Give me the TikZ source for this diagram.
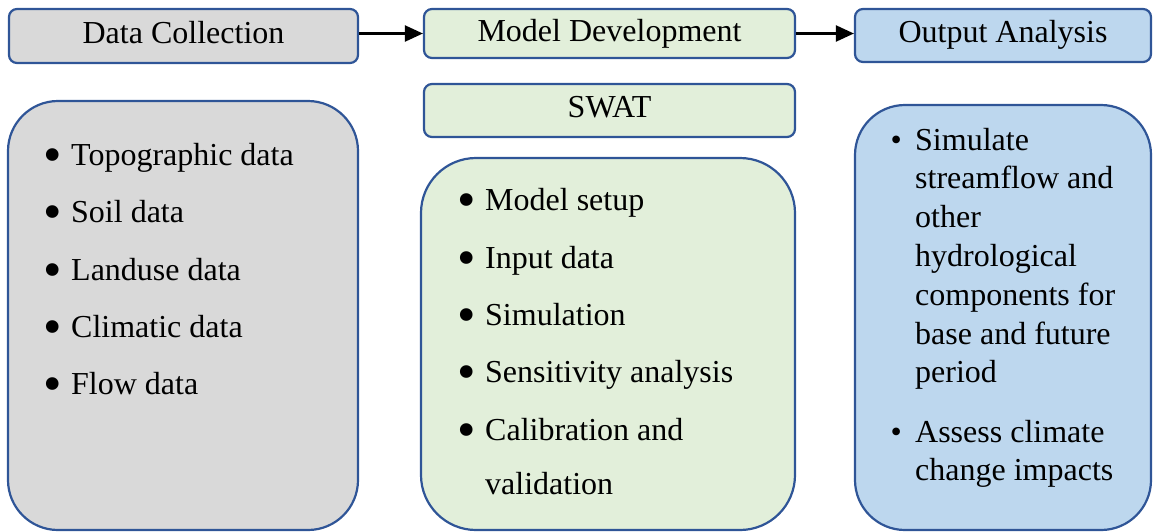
\documentclass[tikz,border=0pt]{standalone}
\usepackage{fontspec}
\setmainfont{Liberation Serif}
\usetikzlibrary{arrows.meta}
\definecolor{edge}{HTML}{2F5597}
\definecolor{grayfill}{HTML}{D9D9D9}
\definecolor{greenfill}{HTML}{E2EFDA}
\definecolor{bluefill}{HTML}{BDD7EE}
\newcommand{\bigbul}{\makebox[27.5pt][l]{\raisebox{-7pt}{\scalebox{1.65}{\textbullet}}}}
\newcommand{\bul}{\makebox[24.6pt][l]{\textbullet}}
\tikzset{
  headbox/.style={draw=edge, line width=2.2pt, rounded corners=8pt, inner sep=0pt,
    text height=22pt, text depth=8pt, font=\fontsize{32}{38.8}\selectfont},
  bigbox/.style={draw=edge, line width=2.2pt, inner sep=0pt},
  item/.style={anchor=base west, inner sep=0pt, font=\fontsize{32}{38.8}\selectfont, align=left},
  arr/.style={line width=2.2pt, -{Triangle[length=18pt,width=16pt]}}
}
\begin{document}
\begin{tikzpicture}[x=1pt,y=-1pt]
\useasboundingbox (0,0) rectangle (1153,531);
% header boxes
\node[headbox, fill=grayfill, minimum width=349pt, minimum height=54pt] (data) at (183.5,36) {Data Collection};
\node[headbox, fill=greenfill, minimum width=371pt, minimum height=49pt, text depth=7pt, text height=23pt] (model) at (609.5,33.5) {Model Development};
\node[headbox, fill=bluefill, minimum width=296pt, minimum height=53pt] (output) at (1003,35.5) {Output Analysis};
\node[headbox, fill=greenfill, minimum width=371pt, minimum height=53pt] (swat) at (609.5,110.5) {SWAT};
\draw[arr] (data.east |- model.west) -- (model.west);
\draw[arr] (model.east) -- (output.west |- model.east);
% big boxes
\node[bigbox, fill=grayfill, rounded corners=50pt, minimum width=350pt, minimum height=429pt] (graybox) at (183,315.5) {};
\node[bigbox, fill=greenfill, rounded corners=55pt, minimum width=374pt, minimum height=372pt] (greenbox) at (608,344) {};
\node[bigbox, fill=bluefill, rounded corners=50pt, minimum width=296pt, minimum height=425pt] (bluebox) at (1003,317.5) {};
% gray list
\node[item] (g1) at (43.5,165) {\bigbul Topographic data};
\node[item] (g2) at (43.5,222) {\bigbul Soil data};
\node[item] (g3) at (43.5,280) {\bigbul Landuse data};
\node[item] (g4) at (43.5,337) {\bigbul Climatic data};
\node[item] (g5) at (43.5,394) {\bigbul Flow data};
% green list
\node[item] (m1) at (457.5,210) {\bigbul Model setup};
\node[item] (m2) at (457.5,268) {\bigbul Input data};
\node[item] (m3) at (457.5,325) {\bigbul Simulation};
\node[item] (m4) at (457.5,382) {\bigbul Sensitivity analysis};
\node[item] (m5) at (457.5,440) {\bigbul\begin{tabular}[t]{@{}l@{}}Calibration and\\[16pt]validation\end{tabular}};
% blue list
\node[item] (b1) at (890.4,150) {\bul\begin{tabular}[t]{@{}l@{}}Simulate\\streamflow and\\other\\hydrological\\components for\\base and future\\period\end{tabular}};
\node[item] (b2) at (890.4,442) {\bul\begin{tabular}[t]{@{}l@{}}Assess climate\\change impacts\end{tabular}};
\end{tikzpicture}
\end{document}
